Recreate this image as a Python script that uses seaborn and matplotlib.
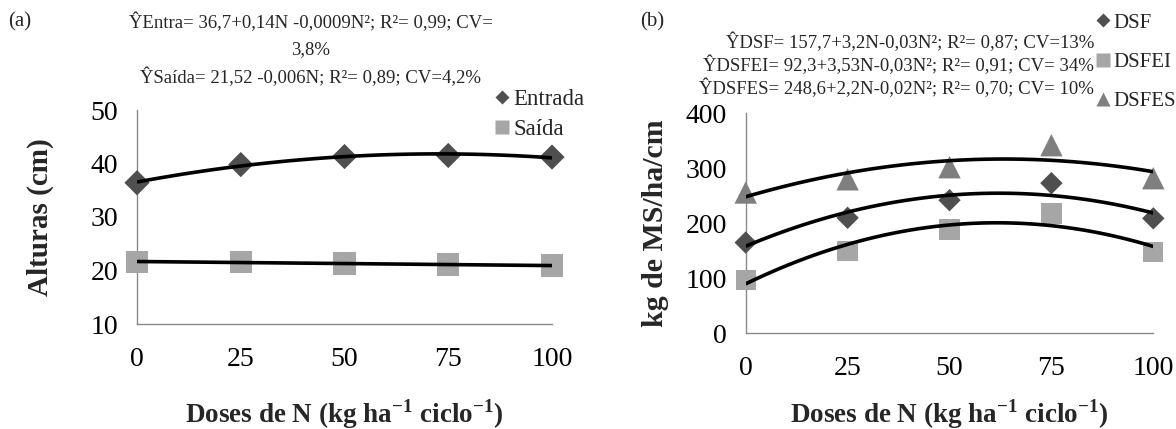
import numpy as np
import pandas as pd
import matplotlib
matplotlib.use("Agg")
import matplotlib.pyplot as plt
from matplotlib.lines import Line2D
import seaborn as sns

# ---------------- data ----------------
doses = [0, 25, 50, 75, 100]
entrada = [36.4, 39.8, 41.3, 41.5, 41.2]
saida = [21.6, 21.6, 21.3, 21.1, 20.9]

dsf = [165, 210, 242, 273, 209]
dsfei = [97, 150, 189, 218, 148]
dsfes = [256, 280, 302, 342, 282]

xticks = [0, 25, 50, 75, 100]
yticks_a = [10, 20, 30, 40, 50]
yticks_b = [0, 100, 200, 300, 400]

eq_a = ["ŶEntra= 36,7+0,14N -0,0009N²; R²= 0,99; CV=",
        "3,8%",
        "ŶSaída= 21,52 -0,006N; R²= 0,89; CV=4,2%"]
eq_b = ["ŶDSF= 157,7+3,2N-0,03N²; R²= 0,87; CV=13%",
        "ŶDSFEI= 92,3+3,53N-0,03N²; R²= 0,91; CV= 34%",
        "ŶDSFES= 248,6+2,2N-0,02N²; R²= 0,70; CV= 10%"]

# ---------------- style ----------------
sns.set_style("white")
plt.rcParams["font.family"] = ["Liberation Serif", "DejaVu Serif"]
plt.rcParams["mathtext.fontset"] = "custom"
plt.rcParams["mathtext.rm"] = "Liberation Serif"
plt.rcParams["mathtext.bf"] = "Liberation Serif:bold"

W, H = 1176, 429
fig = plt.figure(figsize=(W / 100, H / 100), dpi=100)

def fx(px):
    return px / W

def fy(py):
    return 1 - py / H

A_L, A_R, A_T, A_B = 137, 552, 110, 324
B_L, B_R, B_T, B_B = 745.7, 1153.3, 113.3, 333.3
ax_a = fig.add_axes([fx(A_L), fy(A_B), fx(A_R) - fx(A_L), fy(A_T) - fy(A_B)])
ax_b = fig.add_axes([fx(B_L), fy(B_B), fx(B_R) - fx(B_L), fy(B_T) - fy(B_B)])

C_DARK = "#4f4f4f"
C_LIGHT = "#a6a6a6"
C_MID = "#7f7f7f"
SPINE = "#8a8a8a"

df_a = pd.DataFrame({"N": doses, "Entrada": entrada, "Saida": saida})
df_b = pd.DataFrame({"N": doses, "DSF": dsf, "DSFEI": dsfei, "DSFES": dsfes})

line_kws = dict(color="black", lw=2.6, zorder=4, solid_capstyle="butt")

# panel a
sns.scatterplot(data=df_a, x="N", y="Entrada", ax=ax_a, marker="D", s=165,
                color=C_DARK, edgecolor="none", clip_on=False, zorder=3)
sns.scatterplot(data=df_a, x="N", y="Saida", ax=ax_a, marker="s", s=260,
                color=C_LIGHT, edgecolor="none", clip_on=False, zorder=3)
sns.regplot(data=df_a, x="N", y="Entrada", ax=ax_a, order=2, ci=None,
            scatter=False, truncate=True, line_kws=line_kws)
sns.regplot(data=df_a, x="N", y="Saida", ax=ax_a, order=1, ci=None,
            scatter=False, truncate=True, line_kws=line_kws)

# panel b
sns.scatterplot(data=df_b, x="N", y="DSFES", ax=ax_b, marker="^", s=260,
                color=C_MID, edgecolor="none", clip_on=False, zorder=3)
sns.scatterplot(data=df_b, x="N", y="DSF", ax=ax_b, marker="D", s=130,
                color=C_DARK, edgecolor="none", clip_on=False, zorder=3)
sns.scatterplot(data=df_b, x="N", y="DSFEI", ax=ax_b, marker="s", s=215,
                color=C_LIGHT, edgecolor="none", clip_on=False, zorder=3)
for col in ["DSF", "DSFEI", "DSFES"]:
    sns.regplot(data=df_b, x="N", y=col, ax=ax_b, order=2, ci=None,
                scatter=False, truncate=True, line_kws=line_kws)

xlabel = r"Doses de N (kg ha$^{\mathbf{-1}}$ ciclo$^{\mathbf{-1}}$)"
for ax, yt, ylab, ylim, ysize in [(ax_a, yticks_a, "Alturas (cm)", (10, 50), 21),
                                  (ax_b, yticks_b, "kg de MS/ha/cm", (0, 400), 21.5)]:
    ax.set_xlim(0, 100)
    ax.set_ylim(*ylim)
    ax.set_xticks(xticks)
    ax.set_yticks(yt)
    ax.set_xticklabels([str(v) for v in xticks])
    ax.set_yticklabels([str(v) for v in yt])
    for s in ["top", "right"]:
        ax.spines[s].set_visible(False)
    for s in ["left", "bottom"]:
        ax.spines[s].set_color(SPINE)
        ax.spines[s].set_linewidth(1.0)
    ax.tick_params(axis="both", direction="out", length=5.5, width=1.0,
                   color=SPINE, labelsize=20, labelcolor="black")
    ax.tick_params(axis="x", pad=11)
    ax.tick_params(axis="y", pad=8)
    ax.set_xlabel(xlabel, fontsize=19.5, fontweight="bold")
    ax.set_ylabel(ylab, fontsize=ysize, fontweight="bold")
    ax.set_facecolor("none")

# label placement (figure pixel targets)
ax_a.yaxis.set_label_coords((54 - A_L) / (A_R - A_L), 0.5)
ax_b.yaxis.set_label_coords((669 - B_L) / (B_R - B_L), 0.5)
ax_a.xaxis.set_label_coords(0.5, (A_B - 397) / (A_B - A_T))
ax_b.xaxis.set_label_coords(0.5, (B_B - 397) / (B_B - B_T))

# panel tags
fig.text(fx(8), fy(22), "(a)", fontsize=15, ha="left", va="center")
fig.text(fx(640), fy(22), "(b)", fontsize=15, ha="left", va="center")

# equations
for txt, py in zip(eq_a, [22, 50, 77]):
    fig.text(fx(311), fy(py), txt, fontsize=13.5, ha="center", va="center")
for txt, py in zip(eq_b, [42, 65, 88]):
    fig.text(fx(1094), fy(py), txt, fontsize=13.5, ha="right", va="center")

# legends
h_a = [Line2D([], [], ls="none", marker="D", ms=7, color=C_DARK, mec="none"),
       Line2D([], [], ls="none", marker="s", ms=10, color=C_LIGHT, mec="none")]
fig.legend(h_a, ["Entrada", "Saída"], loc="upper left",
           bbox_to_anchor=(fx(493), fy(89)), frameon=False, fontsize=16.5,
           handlelength=0.8, handletextpad=0.1, labelspacing=0.38,
           borderpad=0, borderaxespad=0)

h_b = [Line2D([], [], ls="none", marker="D", ms=7, color=C_DARK, mec="none"),
       Line2D([], [], ls="none", marker="s", ms=10, color=C_LIGHT, mec="none"),
       Line2D([], [], ls="none", marker="^", ms=10, color=C_MID, mec="none")]
fig.legend(h_b, ["DSF", "DSFEI", "DSFES"], loc="upper left",
           bbox_to_anchor=(fx(1095), fy(13)), frameon=False, fontsize=15,
           handlelength=0.8, handletextpad=0.1, labelspacing=0.95,
           borderpad=0, borderaxespad=0)

fig.savefig("out.png", dpi=100, facecolor="white")
